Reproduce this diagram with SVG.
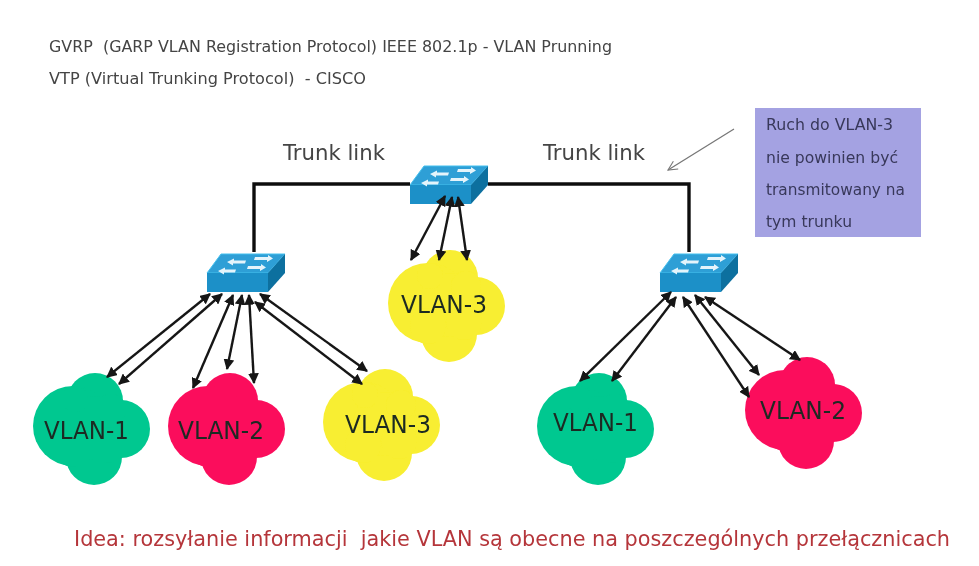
<svg xmlns="http://www.w3.org/2000/svg" width="979" height="566" viewBox="0 0 979 566">
<style>
text{font-family:"DejaVu Sans","Liberation Sans",sans-serif;white-space:pre}
.head{font-size:15.500px;fill:#444}
.trunk{font-size:22px;fill:#444}
.note{font-size:15.500px;fill:#38385a}
.vl{font-size:24px;fill:#1c2a24}
.idea{font-size:21px;fill:#b5363a}
.link{fill:none;stroke:#111;stroke-width:3.4}
.arr{stroke:#151515;stroke-width:2.400;fill:none;marker-start:url(#ah);marker-end:url(#ah)}
.thin{stroke:#777;stroke-width:1.300;fill:none;marker-end:url(#open)}
.green{fill:#05c890}.pink{fill:#fb0a5c}.yellow{fill:#f8ee30}
.sf{fill:#1c90c8}.st{fill:#2f9fd6;stroke:#45c0ee;stroke-width:1}.ss{fill:#0f6f9f}.sa{fill:#e4f4fb}
</style>
<defs>
<filter id="soft" x="0" y="0" width="100%" height="100%"><feGaussianBlur stdDeviation="0.500"/></filter>
<marker id="ah" viewBox="0 0 10 10" refX="9" refY="5" markerWidth="4.500" markerHeight="4.500" orient="auto-start-reverse"><path d="M0 0L10 5L0 10Z" fill="#151515"/></marker>
<marker id="open" viewBox="0 0 12 12" refX="11" refY="6" markerWidth="11" markerHeight="11" markerUnits="userSpaceOnUse" orient="auto"><path d="M1 1L11 6L1 11" fill="none" stroke="#777" stroke-width="1.200"/></marker>
<symbol id="cloud" width="118" height="113" overflow="visible">
<circle cx="62" cy="28" r="28"/><circle cx="40" cy="53" r="40"/><circle cx="88" cy="56" r="29"/><circle cx="61" cy="84" r="28"/><circle cx="62" cy="55" r="32"/>
<circle cx="78" cy="36" r="15"/><circle cx="76" cy="72" r="18"/><circle cx="40" cy="76" r="18"/><circle cx="42" cy="26" r="13"/>
</symbol>
<symbol id="switch" width="79" height="39" overflow="visible">
<path class="st" d="M0 19L14 0H78L61 19Z"/>
<path class="sf" d="M0 19H61V38H0Z"/>
<path class="ss" d="M61 19L78 0V19L61 38Z"/>
<path class="sa" d="M20 8l7-3.500v2h12l-1 3h-12v2zM66 4.500l-6 3.500v-2h-13l1-3h13v-2zM11 17l7-3.500v2h11l-1 3h-11v2zM59 13.500l-6 3.500v-2h-13l1-3h13v-2z"/>
</symbol>
</defs>
<rect width="979" height="566" fill="#fff"/>
<g filter="url(#soft)">
<g id="headers">
<text class="head" x="49" y="52" textLength="563" lengthAdjust="spacingAndGlyphs" xml:space="preserve">GVRP  (GARP VLAN Registration Protocol) IEEE 802.1p - VLAN Prunning</text>
<text class="head" x="49" y="84" textLength="317" lengthAdjust="spacingAndGlyphs" xml:space="preserve">VTP (Virtual Trunking Protocol)  - CISCO</text>
</g>
<g id="trunk-label-left"><text class="trunk" x="283" y="160" textLength="102" lengthAdjust="spacingAndGlyphs">Trunk link</text></g>
<g id="trunk-label-right"><text class="trunk" x="543" y="160" textLength="102" lengthAdjust="spacingAndGlyphs">Trunk link</text></g>
<g id="switch-left"><use href="#switch" x="207" y="254"/></g>
<g id="switch-center"><use href="#switch" x="410" y="166"/></g>
<g id="switch-right"><use href="#switch" x="660" y="254"/></g>
<g id="cloud-left-vlan1"><use href="#cloud" class="green" x="33" y="373"/><text class="vl" x="44" y="439" textLength="85" lengthAdjust="spacingAndGlyphs">VLAN-1</text></g>
<g id="cloud-left-vlan2"><use href="#cloud" class="pink" x="168" y="373"/><text class="vl" x="178" y="439" textLength="86" lengthAdjust="spacingAndGlyphs">VLAN-2</text></g>
<g id="cloud-left-vlan3"><use href="#cloud" class="yellow" x="323" y="369"/><text class="vl" x="345" y="433" textLength="86" lengthAdjust="spacingAndGlyphs">VLAN-3</text></g>
<g id="cloud-center-vlan3"><use href="#cloud" class="yellow" x="388" y="250"/><text class="vl" x="401" y="313" textLength="86" lengthAdjust="spacingAndGlyphs">VLAN-3</text></g>
<g id="cloud-right-vlan1"><use href="#cloud" class="green" x="537" y="373"/><text class="vl" x="553" y="431" textLength="85" lengthAdjust="spacingAndGlyphs">VLAN-1</text></g>
<g id="cloud-right-vlan2"><use href="#cloud" class="pink" x="745" y="357"/><text class="vl" x="760" y="419" textLength="86" lengthAdjust="spacingAndGlyphs">VLAN-2</text></g>
<g id="connectors">
<path class="link" d="M410 184H254V252M488 184H689V252"/>
<path class="arr" d="M210 294L107 377"/>
<path class="arr" d="M222 294L119 384"/>
<path class="arr" d="M233 295L193 388"/>
<path class="arr" d="M242 295L227 369"/>
<path class="arr" d="M249 295L254 383"/>
<path class="arr" d="M255 302L362 384"/>
<path class="arr" d="M260 294L367 371"/>
<path class="arr" d="M445 196L411 260"/>
<path class="arr" d="M452 197L439 260"/>
<path class="arr" d="M458 197L467 260"/>
<path class="arr" d="M671 292L580 381"/>
<path class="arr" d="M676 297L612 381"/>
<path class="arr" d="M683 297L749 397"/>
<path class="arr" d="M695 295L759 375"/>
<path class="arr" d="M705 297L800 360"/>
<path class="thin" d="M734 129L668 170"/>
</g>
<g id="note">
<rect x="755" y="108" width="166" height="129" fill="#a4a2e2"/>
<text class="note" x="766" y="130" textLength="127" lengthAdjust="spacingAndGlyphs">Ruch do VLAN-3</text>
<text class="note" x="766" y="163" textLength="132" lengthAdjust="spacingAndGlyphs">nie powinien być</text>
<text class="note" x="766" y="195" textLength="139" lengthAdjust="spacingAndGlyphs">transmitowany na</text>
<text class="note" x="766" y="227" textLength="86" lengthAdjust="spacingAndGlyphs">tym trunku</text>
</g>
<g id="idea"><text class="idea" x="74" y="546" textLength="876" lengthAdjust="spacingAndGlyphs" xml:space="preserve">Idea: rozsyłanie informacji  jakie VLAN są obecne na poszczególnych przełącznicach</text></g>
</g>
</svg>
